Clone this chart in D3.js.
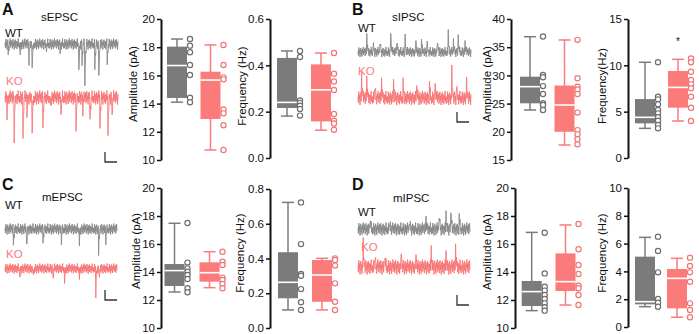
<!DOCTYPE html>
<html><head><meta charset="utf-8">
<script src="https://cdn.jsdelivr.net/npm/d3@7"></script>
<style>body{margin:0;background:#fff}svg{display:block}</style>
</head><body>
<svg id="c" width="699" height="334"></svg>
<script>
// ---------- DATA ----------
const groups = ["WT", "KO"];
// box stats: [whiskerLow, q1, median, q3, whiskerHigh]
const sEPSCAmpBox = { WT: [14.1, 14.4, 16.7, 18.04, 18.58], KO: [10.71, 12.91, 15.67, 16.26, 18.16] };
const sEPSCAmpPts = { WT: [18.58, 18.11, 17.64, 16.74, 16.03, 14.42, 14.09], KO: [18.16, 16.74, 15.86, 15.72, 13.59, 13.31, 12.46, 10.71] };
const sEPSCFreqBox = { WT: [0.181, 0.216, 0.240, 0.432, 0.462], KO: [0.120, 0.158, 0.294, 0.404, 0.453] };
const sEPSCFreqPts = { WT: [0.462, 0.436, 0.248, 0.238, 0.226, 0.212, 0.183], KO: [0.453, 0.364, 0.330, 0.294, 0.190, 0.161, 0.149, 0.122] };

const sIPSCAmpBox = { WT: [23.87, 25.05, 28.0, 29.77, 36.86], KO: [17.66, 20.0, 24.75, 28.2, 36.28] };
const sIPSCAmpPts = { WT: [36.9, 30.07, 29.66, 28.1, 26.7, 25.05, 24.75, 23.87], KO: [36.3, 29.5, 28.0, 27.5, 26.7, 23.4, 20.3, 19.55, 18.7, 17.8] };
const sIPSCFreqBox = { WT: [3.2, 3.74, 4.39, 6.36, 10.33], KO: [3.99, 5.43, 7.62, 9.39, 10.65] };
const sIPSCFreqPts = { WT: [10.33, 6.62, 6.33, 5.79, 5.18, 4.82, 4.39, 4.03, 3.56, 3.2], KO: [10.75, 10.33, 9.31, 8.41, 7.95, 7.52, 6.62, 5.43, 3.99] };

const mEPSCAmpBox = { WT: [12.57, 13.0, 14.1, 14.57, 17.48], KO: [12.88, 13.31, 13.95, 14.69, 15.45] };
const mEPSCAmpPts = { WT: [17.5, 14.67, 14.26, 14.02, 13.79, 13.5, 12.84, 12.55], KO: [15.45, 14.74, 14.5, 13.6, 13.43, 13.14, 12.84] };
const mEPSCFreqBox = { WT: [0.104, 0.171, 0.263, 0.436, 0.723], KO: [0.104, 0.151, 0.305, 0.391, 0.401] };
const mEPSCFreqPts = { WT: [0.723, 0.483, 0.311, 0.301, 0.224, 0.148, 0.104], KO: [0.401, 0.391, 0.359, 0.257, 0.151, 0.104] };

const mIPSCAmpBox = { WT: [11.24, 11.57, 12.6, 13.36, 16.83], KO: [11.64, 12.64, 13.31, 15.33, 17.36] };
const mIPSCAmpPts = { WT: [16.8, 13.9, 12.95, 12.67, 12.36, 12.07, 11.76, 11.48, 11.24], KO: [17.43, 15.62, 14.5, 13.86, 13.02, 12.84, 12.36, 11.64] };
const mIPSCFreqBox = { WT: [1.46, 1.63, 1.82, 5.06, 6.45], KO: [0.70, 1.34, 3.5, 4.17, 4.94] };
const mIPSCFreqPts = { WT: [6.5, 5.47, 3.93, 2.01, 1.75, 1.46], KO: [4.99, 4.39, 3.93, 3.26, 1.7, 1.22, 0.70] };

// tick labels
const ampTicks1020 = [10, 12, 14, 16, 18, 20];
const sEPSCFreqTicks = [0, 0.2, 0.4, 0.6];
const sIPSCAmpTicks = [15, 20, 25, 30, 35, 40];
const sIPSCFreqTicks = [0, 5, 10, 15];
const mEPSCFreqTicks = [0, 0.2, 0.4, 0.6, 0.8];
const mIPSCFreqTicks = [0, 2, 4, 6, 8, 10];

// example trace events: [time (s, 0-10), amplitude (pA, sign = direction)]
const sEPSC_WT_events = [[0.27,-16],[1.33,-14],[2.12,-32],[2.39,-52],[3.63,-12],[4.87,-12],[6.55,-54],[6.81,-38],[7.08,-88],[7.96,-48],[8.32,-74],[9.03,-36]];
const sEPSC_KO_events = [[0.18,-31],[0.8,-77],[1.59,-75],[1.95,-29],[2.39,-77],[3.36,-55],[3.98,-21],[4.96,-41],[6.28,-55],[6.9,-25],[7.52,-45],[8.41,-59],[9.12,-65],[9.47,-39]];
const sIPSC_WT_events = [[0.77,34],[1.36,20],[1.95,24],[2.89,42],[3.42,24],[4.16,28],[5.13,28],[5.63,20],[6.13,24],[7.02,24],[7.99,40],[8.43,20],[8.88,30],[9.47,20]];
const sIPSC_KO_events = [[0.33,48],[0.77,40],[1.5,32],[2.1,36],[3.13,32],[4.0,28],[5.19,36],[6.31,28],[6.81,36],[8.29,52],[8.73,24],[9.62,28]];
const mEPSC_WT_events = [[0.74,-28],[1.92,-38],[3.39,-24],[5.02,-22],[6.64,-26],[8.35,-52],[9.0,-22]];
const mEPSC_KO_events = [[1.33,-19],[2.5,-15],[4.27,-21],[5.31,-23],[6.64,-15],[8.11,-49],[8.4,-23]];
const mIPSC_WT_events = [[1.06,22],[2.83,18],[4.6,16],[6.08,22],[7.26,32],[7.85,34],[8.29,44],[9.03,26]];
const mIPSC_KO_events = [[0.47,44],[1.5,28],[2.39,24],[3.87,34],[5.19,32],[6.52,40],[7.85,30],[8.73,42]];
// baseline noise pattern (normalised, read as typical deflections)
const noisePattern = [0.2,-0.7,0.9,-0.3,0.5,-1.0,0.1,0.8,-0.5,0.3,-0.9,0.6,-0.1,1.0,-0.6,0.4,-0.2,0.7,-0.8,0.0,0.9,-0.4,0.3,-1.0,0.6,-0.2,0.8,-0.7,0.1,0.5,-0.9,0.4,-0.3,1.0,-0.5,0.2,-0.8];
// noise level (pA, peak-to-peak) of each trace
const noiseLevels = { sEPSC: [22, 28], sIPSC: [20, 28], mEPSC: [22, 20], mIPSC: [26, 30] };

// ---------- DRAWING ----------
const svg = d3.select("#c");
const FONT = "'Liberation Sans', Arial, Helvetica, sans-serif";
const COL = { WT: "#7b7b7b", KO: "#fb7a7a" };
const PT = { WT: "#6e6e6e", KO: "#f07676" };
const TRACE = { WT: "#888888", KO: "#f77676" };

function drawBox(cfg) {
  const g = svg.append("g");
  const y = d3.scaleLinear().domain(cfg.domain).range([cfg.yBot, cfg.yTop]);
  const x = d3.scalePoint().domain(groups).range(cfg.centers);
  const axis = d3.axisLeft(y).tickValues(cfg.ticks).tickSize(4).tickSizeOuter(0).tickPadding(2)
    .tickFormat(cfg.fmt || d3.format("d"));
  const ag = g.append("g").attr("transform", `translate(${cfg.axisX},0)`).call(axis);
  ag.select(".domain").attr("stroke", "#111").attr("stroke-width", 2);
  ag.selectAll(".tick line").attr("stroke", "#111").attr("stroke-width", 1.5);
  ag.selectAll(".tick text").attr("font-family", FONT).attr("font-size", 11.5).attr("fill", "#111");
  g.append("text").attr("transform", `translate(${cfg.titleX},${cfg.titleY}) rotate(-90)`)
    .attr("text-anchor", "middle").attr("font-family", FONT).attr("font-size", 11.5).attr("fill", "#111")
    .text(cfg.title);
  const hw = 10, cap = 6;
  groups.forEach(k => {
    const s = cfg.box[k], cx = x(k);
    const gg = g.append("g");
    gg.append("line").attr("x1", cx).attr("x2", cx).attr("y1", y(s[0])).attr("y2", y(s[4]))
      .attr("stroke", COL[k]).attr("stroke-width", 1.5);
    [s[0], s[4]].forEach(v => gg.append("line").attr("x1", cx - cap).attr("x2", cx + cap)
      .attr("y1", y(v)).attr("y2", y(v)).attr("stroke", COL[k]).attr("stroke-width", 1.5));
    gg.append("rect").attr("x", cx - hw).attr("width", 2 * hw).attr("y", y(s[3])).attr("height", y(s[1]) - y(s[3]))
      .attr("fill", COL[k]);
    gg.append("line").attr("x1", cx - hw).attr("x2", cx + hw).attr("y1", y(s[2])).attr("y2", y(s[2]))
      .attr("stroke", "#fff").attr("stroke-width", 1.6);
    gg.selectAll("circle").data(cfg.pts[k]).join("circle")
      .attr("cx", cx + 13).attr("cy", d => y(d)).attr("r", 2.6)
      .attr("fill", "#fff").attr("stroke", PT[k]).attr("stroke-width", 1.2);
  });
  if (cfg.star) {
    g.append("text").attr("x", x("KO")).attr("y", y(cfg.star) + 4).attr("text-anchor", "middle")
      .attr("font-family", FONT).attr("font-size", 10).attr("fill", "#111").text("*");
  }
}

function drawTrace(x0, x1, baseY, events, noiseLvl, color) {
  const t = d3.scaleLinear().domain([0, 10]).range([x0, x1]);
  const y = d3.scaleLinear().domain([-100, 100]).range([baseY + 50, baseY - 50]);
  const n = Math.round((x1 - x0) * 2.5);
  const vals = [];
  for (let i = 0; i <= n; i++) vals.push(noisePattern[i % noisePattern.length] * noiseLvl / 2);
  const decay = [1, 0.5, 0.25, 0.1];
  events.forEach(([te, a]) => {
    const i0 = Math.round(te / 10 * n);
    decay.forEach((f, j) => { if (i0 + j <= n) vals[i0 + j] += a * f; });
  });
  const line = d3.line().x((d, i) => t(i / n * 10)).y(d => y(d));
  svg.append("path").attr("d", line(vals)).attr("fill", "none").attr("stroke", color)
    .attr("stroke-width", 0.9).attr("stroke-linejoin", "round");
}

function scaleBar(x, y) {
  svg.append("path").attr("d", `M${x},${y} V${y + 10} H${x + 12}`).attr("fill", "none")
    .attr("stroke", "#333").attr("stroke-width", 1.3);
}

function label(x, y, txt, opts = {}) {
  svg.append("text").attr("x", x).attr("y", y).attr("font-family", FONT)
    .attr("font-size", opts.size || 11.5).attr("font-weight", opts.bold ? "bold" : "normal")
    .attr("fill", opts.color || "#111").text(txt);
}

// ---- Panel A ----
label(2, 15, "A", { bold: true, size: 16 });
label(41, 21, "sEPSC");
label(5, 37, "WT");
label(6, 85, "KO", { color: "#f47c7c" });
drawTrace(5, 118, 44, sEPSC_WT_events, noiseLevels.sEPSC[0], TRACE.WT);
drawTrace(5, 118, 97.5, sEPSC_KO_events, noiseLevels.sEPSC[1], TRACE.KO);
scaleBar(105, 152);
drawBox({ axisX: 161, yTop: 19, yBot: 160, domain: [10, 20], ticks: ampTicks1020, title: "Amplitude (pA)",
  titleX: 137, titleY: 84, centers: [177, 210.5], box: sEPSCAmpBox, pts: sEPSCAmpPts });
drawBox({ axisX: 270, yTop: 19, yBot: 158, domain: [0, 0.6], ticks: sEPSCFreqTicks, fmt: d3.format(".1f"),
  title: "Frequency (Hz)", titleX: 246, titleY: 86, centers: [287, 321], box: sEPSCFreqBox, pts: sEPSCFreqPts });

// ---- Panel B ----
label(352, 15, "B", { bold: true, size: 16 });
label(392, 21, "sIPSC");
label(358, 32, "WT");
label(358, 75, "KO", { color: "#f47c7c" });
drawTrace(358, 471, 52, sIPSC_WT_events, noiseLevels.sIPSC[0], TRACE.WT);
drawTrace(358, 471, 98, sIPSC_KO_events, noiseLevels.sIPSC[1], TRACE.KO);
scaleBar(457, 112);
drawBox({ axisX: 511, yTop: 19, yBot: 160, domain: [15, 40], ticks: sIPSCAmpTicks, title: "Amplitude (pA)",
  titleX: 491, titleY: 84, centers: [530, 564.5], box: sIPSCAmpBox, pts: sIPSCAmpPts });
drawBox({ axisX: 628, yTop: 19, yBot: 158, domain: [0, 15], ticks: sIPSCFreqTicks,
  title: "Frequency(Hz)", titleX: 606, titleY: 86, centers: [645, 678], box: sIPSCFreqBox, pts: sIPSCFreqPts, star: 12.6 });

// ---- Panel C ----
label(2, 190, "C", { bold: true, size: 16 });
label(42, 201, "mEPSC");
label(5, 209, "WT");
label(6, 258, "KO", { color: "#f47c7c" });
drawTrace(5, 117, 229, mEPSC_WT_events, noiseLevels.mEPSC[0], TRACE.WT);
drawTrace(5, 117, 268.5, mEPSC_KO_events, noiseLevels.mEPSC[1], TRACE.KO);
scaleBar(105, 290);
drawBox({ axisX: 161, yTop: 188, yBot: 328, domain: [10, 20], ticks: ampTicks1020, title: "Amplitude (pA)",
  titleX: 140, titleY: 251, centers: [174.5, 209.5], box: mEPSCAmpBox, pts: mEPSCAmpPts });
drawBox({ axisX: 270, yTop: 189, yBot: 328, domain: [0, 0.8], ticks: mEPSCFreqTicks, fmt: d3.format(".1f"),
  title: "Frequency (Hz)", titleX: 244, titleY: 253, centers: [288, 322], box: mEPSCFreqBox, pts: mEPSCFreqPts });

// ---- Panel D ----
label(352, 190, "D", { bold: true, size: 16 });
label(393, 202, "mIPSC");
label(358, 216, "WT");
label(361, 251, "KO", { color: "#f47c7c" });
drawTrace(358, 470, 229, mIPSC_WT_events, noiseLevels.mIPSC[0], TRACE.WT);
drawTrace(358, 470, 267, mIPSC_KO_events, noiseLevels.mIPSC[1], TRACE.KO);
scaleBar(457, 295);
drawBox({ axisX: 515, yTop: 188, yBot: 328, domain: [10, 20], ticks: ampTicks1020, title: "Amplitude (pA)",
  titleX: 491, titleY: 252, centers: [531.7, 565.5], box: mIPSCAmpBox, pts: mIPSCAmpPts });
drawBox({ axisX: 628, yTop: 188, yBot: 327, domain: [0, 10], ticks: mIPSCFreqTicks,
  title: "Frequency (Hz)", titleX: 606, titleY: 253, centers: [645, 677], box: mIPSCFreqBox, pts: mIPSCFreqPts });
</script>
</body></html>
